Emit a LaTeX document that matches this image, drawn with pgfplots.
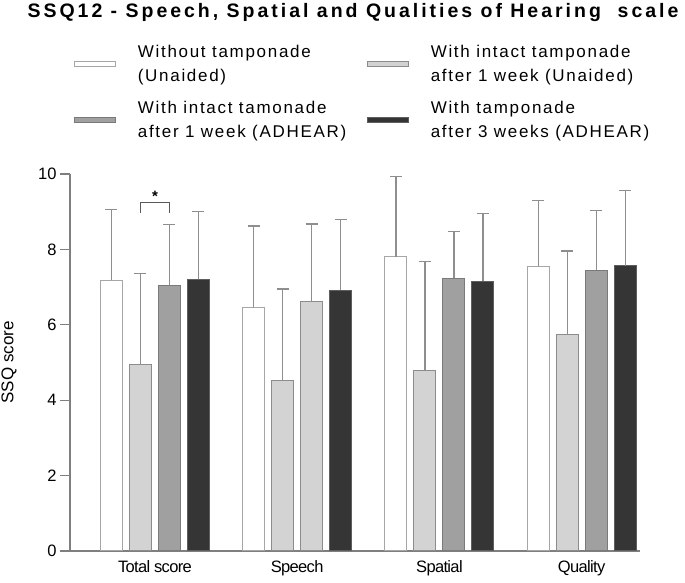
\documentclass[border=0pt]{standalone}
\usepackage{fontspec}
\setmainfont{Liberation Sans}
\newfontfamily\titlefont{Liberation Sans Bold}[LetterSpace=15.3]
\newfontfamily\legfont{Liberation Sans}[LetterSpace=10]
\newfontfamily\xfont{Liberation Sans}[LetterSpace=-4]
\usepackage{pgfplots}
\pgfplotsset{compat=1.18}
\definecolor{clight}{HTML}{D3D3D3}
\definecolor{cmid}{HTML}{A0A0A0}
\definecolor{cdark}{HTML}{353535}
\definecolor{edgew}{HTML}{A6A6A6}
\definecolor{edgel}{HTML}{8C8C8C}
\definecolor{edgem}{HTML}{7A7A7A}
\definecolor{edged}{HTML}{5E5E5E}
\definecolor{errc}{HTML}{8E8E8E}
\definecolor{axc}{HTML}{7F7F7F}
\pgfplotsset{myerr/.style={error bars/.cd, y dir=plus, y explicit,
    error bar style={line width=1.3pt, color=errc},
    error mark options={rotate=90, mark size=6pt, line width=1.3pt, color=errc}}}
\newcommand{\legtext}[2]{\parbox[c]{229pt}{\raggedright\legfont\fontsize{17}{24}\selectfont #1\\#2}}
\begin{document}
\begin{tikzpicture}
\useasboundingbox (-70pt,-32pt) rectangle (615pt,551pt);
\begin{axis}[
  at={(0pt,0pt)}, anchor=south west,
  scale only axis, width=570pt, height=377pt,
  xmin=-0.597, xmax=3.41, ymin=0, ymax=10,
  axis lines*=left,
  axis line style={-, draw=axc, line width=1.3pt},
  xtick={0,1,2,3},
  xticklabels={Total score,Speech,Spatial,Quality},
  xtick style={draw=none},
  ytick={0,2,4,6,8,10},
  ytick style={draw=axc, line width=1.3pt},
  tick align=outside,
  major tick length=10pt,
  /pgf/number format/assume math mode=true,
  yticklabel style={font=\fontsize{16.5}{18}\selectfont},
  xticklabel style={font=\xfont\fontsize{16.5}{18}\selectfont, yshift=4pt},
  ylabel={SSQ score},
  every axis y label/.style={at={(rel axis cs:-0.107,0.5)}, rotate=90, anchor=center, font=\fontsize{17}{20}\selectfont},
  legend columns=2,
  legend cell align=left,
  legend style={draw=none, fill=none, at={(0.007,1.342)}, anchor=north west,
    inner sep=0pt, outer sep=0pt, nodes={inner sep=0pt},
    column sep=0pt, row sep=32pt,
    /tikz/every odd column/.append style={column sep=22pt}},
]
\addlegendimage{legend image code/.code={\draw[fill=white, draw=edgew, line width=0.9pt] (0pt,-9.5pt) rectangle (41pt,-4.5pt);}}
\addlegendentry{\legtext{Without tamponade}{(Unaided)}}
\addlegendimage{legend image code/.code={\draw[fill=clight, draw=edgel, line width=0.9pt] (0pt,-9.5pt) rectangle (41pt,-4.5pt);}}
\addlegendentry{\legtext{With intact tamponade}{after 1 week (Unaided)}}
\addlegendimage{legend image code/.code={\draw[fill=cmid, draw=edgem, line width=0.9pt] (0pt,-9.5pt) rectangle (41pt,-4.5pt);}}
\addlegendentry{\legtext{With intact tamonade}{after 1 week (ADHEAR)}}
\addlegendimage{legend image code/.code={\draw[fill=cdark, draw=edged, line width=0.9pt] (0pt,-9.5pt) rectangle (41pt,-4.5pt);}}
\addlegendentry{\legtext{With tamponade}{after 3 weeks (ADHEAR)}}

% Without tamponade (Unaided)
\addplot[ybar, forget plot, bar width=22pt, bar shift=0pt, fill=white, draw=edgew, line width=1pt, myerr]
  coordinates {(-0.306,7.18) +- (0,1.88) (0.694,6.46) +- (0,2.16) (1.694,7.80) +- (0,2.13) (2.694,7.55) +- (0,1.75)};
% With intact tamponade after 1 week (Unaided)
\addplot[ybar, forget plot, bar width=22pt, bar shift=0pt, fill=clight, draw=edgel, line width=1pt, myerr]
  coordinates {(-0.102,4.95) +- (0,2.41) (0.898,4.53) +- (0,2.42) (1.898,4.80) +- (0,2.88) (2.898,5.73) +- (0,2.23)};
% With intact tamonade after 1 week (ADHEAR)
\addplot[ybar, forget plot, bar width=22pt, bar shift=0pt, fill=cmid, draw=edgem, line width=1pt, myerr]
  coordinates {(0.102,7.05) +- (0,1.61) (2.102,7.24) +- (0,1.23) (3.102,7.45) +- (0,1.59)};
\addplot[ybar, forget plot, bar width=22pt, bar shift=0pt, fill=clight, draw=edgel, line width=1pt, myerr]
  coordinates {(1.102,6.61) +- (0,2.06)};
% With tamponade after 3 weeks (ADHEAR)
\addplot[ybar, forget plot, bar width=22pt, bar shift=0pt, fill=cdark, draw=edged, line width=1pt, myerr]
  coordinates {(0.306,7.21) +- (0,1.80) (1.306,6.92) +- (0,1.88) (2.306,7.16) +- (0,1.80) (3.306,7.56) +- (0,2.00)};

\draw[line width=1.1pt, color=black!65] (axis cs:-0.102,8.96) -- (axis cs:-0.102,9.24) -- (axis cs:0.102,9.24) -- (axis cs:0.102,8.96);
\node[font=\bfseries\fontsize{15}{15}\selectfont, inner sep=0pt] at (axis cs:0,9.40) {*};
\end{axis}
\node[anchor=base, inner sep=0pt, font=\titlefont\fontsize{19.5}{22}\selectfont] at (283pt,533pt) {SSQ12 - Speech, Spatial and Qualities of Hearing\ \ scale};
\end{tikzpicture}
\end{document}
